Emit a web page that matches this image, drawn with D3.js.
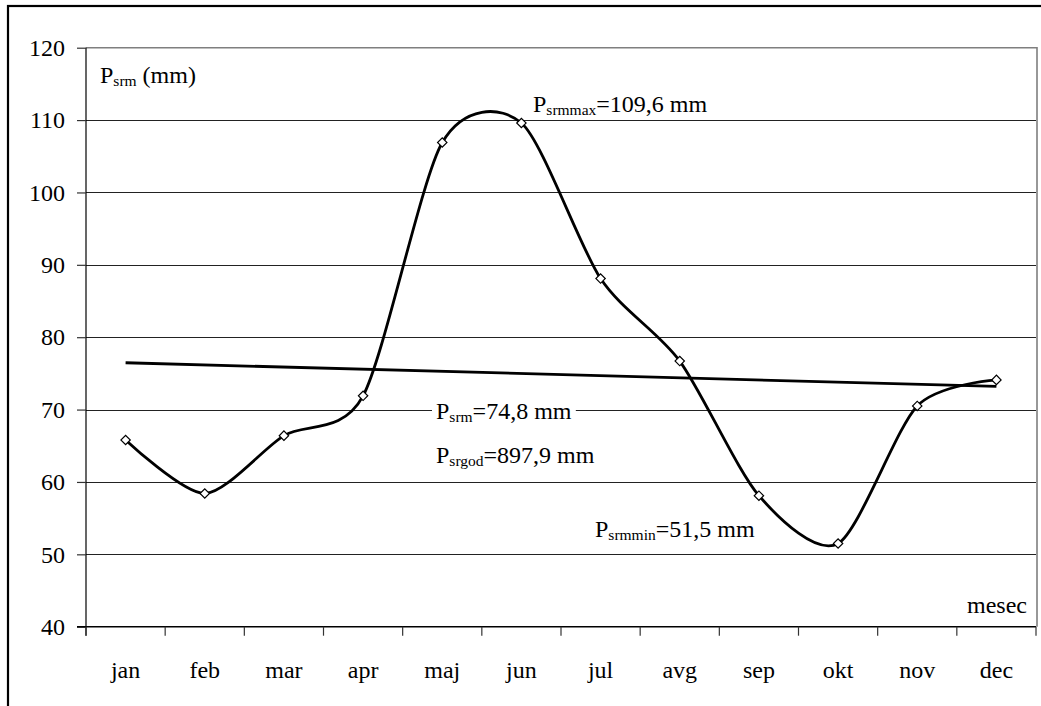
<!DOCTYPE html>
<html>
<head>
<meta charset="utf-8">
<script src="https://cdn.jsdelivr.net/npm/d3@7/dist/d3.min.js"></script>
<style>
  html, body { margin: 0; padding: 0; background: #fff; }
  svg { display: block; }
</style>
</head>
<body>
<svg id="chart" width="1041" height="706"></svg>
<script>
// ---- data ----
const months = ["jan", "feb", "mar", "apr", "maj", "jun", "jul", "avg", "sep", "okt", "nov", "dec"];
const precip = [65.8, 58.4, 66.4, 71.9, 106.9, 109.6, 88.1, 76.7, 58.1, 51.5, 70.5, 74.1];
const yTicks = [40, 50, 60, 70, 80, 90, 100, 110, 120];
const yLabel = { main: "P", sub: "srm", rest: " (mm)" };
const xLabel = "mesec";
const notes = [
  { main: "P", sub: "srmmax", rest: "=109,6 mm" },
  { main: "P", sub: "srm", rest: "=74,8 mm" },
  { main: "P", sub: "srgod", rest: "=897,9 mm" },
  { main: "P", sub: "srmmin", rest: "=51,5 mm" }
];

(function () {
// ---- layout ----
const W = 1041, H = 706;
const pL = 86, pR = 1036, pT = 47.7, pB = 626.7;
const FS = "24px", SFS = "15.5px";
const FONT = "Liberation Serif, Tinos, DejaVu Serif, Noto Serif, serif";
const svg = d3.select("#chart").attr("font-family", FONT);

// outer frame (cropped at right/bottom)
svg.append("rect").attr("x", 8).attr("y", 6).attr("width", W + 20).attr("height", H + 20)
  .attr("fill", "#fff").attr("stroke", "#000").attr("stroke-width", 2.2);

const x = d3.scaleBand().domain(months).range([pL, pR]);
const y = d3.scaleLinear().domain([40, 120]).range([pB, pT]);

// gridlines
svg.append("g").selectAll("line").data(yTicks.filter(t => t > 40 && t < 120)).join("line")
  .attr("x1", pL).attr("x2", pR)
  .attr("y1", d => Math.round(y(d)) + 0.5).attr("y2", d => Math.round(y(d)) + 0.5)
  .attr("stroke", "#222").attr("stroke-width", 1);

// plot area top and right border (gray)
svg.append("path")
  .attr("d", `M${pL},${y(120)}H${pR + 1}V${pB}`)
  .attr("fill", "none").attr("stroke", "#7f7f7f").attr("stroke-width", 1.6);

// y axis
const yAxis = d3.axisLeft(y).tickValues(yTicks).tickSize(9).tickPadding(12).tickSizeOuter(0);
const gy = svg.append("g").attr("transform", `translate(${pL},0)`).call(yAxis);
gy.attr("font-family", FONT).attr("font-size", FS);
gy.select(".domain").attr("stroke", "#000").attr("stroke-width", 1.2)
  .attr("d", `M0,${y(120)}V${pB + 9}`);
gy.selectAll(".tick line").attr("stroke", "#333").attr("stroke-width", 1.2);
gy.selectAll(".tick text").attr("fill", "#000");

// x axis
const gx = svg.append("g").attr("transform", `translate(0,${pB})`);
gx.append("line").attr("x1", pL - 9).attr("x2", pR).attr("y1", 0).attr("y2", 0)
  .attr("stroke", "#000").attr("stroke-width", 1.4);
const bounds = months.map(m => x(m)).concat([x(months[months.length - 1]) + x.bandwidth()]);
gx.selectAll("line.tk").data(bounds).join("line").attr("class", "tk")
  .attr("x1", d => d).attr("x2", d => d).attr("y1", 0).attr("y2", 9)
  .attr("stroke", "#333").attr("stroke-width", 1.2);
gx.selectAll("text").data(months).join("text")
  .attr("x", d => x(d) + x.bandwidth() / 2).attr("y", 51)
  .attr("text-anchor", "middle").attr("font-size", FS).text(d => d);

// helper for subscript labels
function subText(g, item, px, py, anchor, withBg) {
  const t = g.append("text").attr("x", px).attr("y", py).attr("text-anchor", anchor || "start")
    .attr("font-size", FS);
  t.append("tspan").text(item.main);
  t.append("tspan").attr("dy", 3).attr("font-size", SFS).text(item.sub);
  t.append("tspan").attr("dy", -3).text(item.rest);
  if (withBg) {
    const bb = t.node().getBBox();
    g.insert("rect", "text").attr("x", bb.x - 4).attr("y", bb.y + 2)
      .attr("width", bb.width + 8).attr("height", bb.height - 4).attr("fill", "#fff");
  }
  return t;
}

// trend line (least squares over month index)
const idx = precip.map((_, i) => i);
const mx = d3.mean(idx), my = d3.mean(precip);
const slope = d3.sum(idx, i => (i - mx) * (precip[i] - my)) / d3.sum(idx, i => (i - mx) ** 2);
const trend = i => my + slope * (i - mx);
const cx = i => x(months[i]) + x.bandwidth() / 2;

// label with white background for P_srm (interrupts gridline)
const labels = svg.append("g");
subText(labels, notes[1], 436, 419, "start", true);

svg.append("line")
  .attr("x1", cx(0)).attr("y1", y(trend(0)))
  .attr("x2", cx(11)).attr("y2", y(trend(11)))
  .attr("stroke", "#000").attr("stroke-width", 2.8);

// smoothed line
const line = d3.line().x((d, i) => cx(i)).y(d => y(d)).curve(d3.curveCardinal.tension(0.2));
svg.append("path").datum(precip).attr("d", line)
  .attr("fill", "none").attr("stroke", "#000").attr("stroke-width", 2.8).attr("stroke-linejoin", "round");

// markers (diamonds)
const sym = d3.symbol().type(d3.symbolSquare).size(44);
svg.append("g").selectAll("path").data(precip).join("path")
  .attr("d", sym)
  .attr("transform", (d, i) => `translate(${cx(i)},${y(d)}) rotate(45)`)
  .attr("fill", "#fff").attr("stroke", "#000").attr("stroke-width", 1.2);

// other labels
const labels2 = svg.append("g");
subText(labels2, yLabel, 100, 83, "start", false);
subText(labels2, notes[0], 533, 112, "start", false);
subText(labels2, notes[2], 436, 463, "start", false);
subText(labels2, notes[3], 595, 537, "start", false);
svg.append("text").attr("x", 1027).attr("y", 613).attr("text-anchor", "end")
  .attr("font-size", FS).text(xLabel);
})();
</script>
</body>
</html>
